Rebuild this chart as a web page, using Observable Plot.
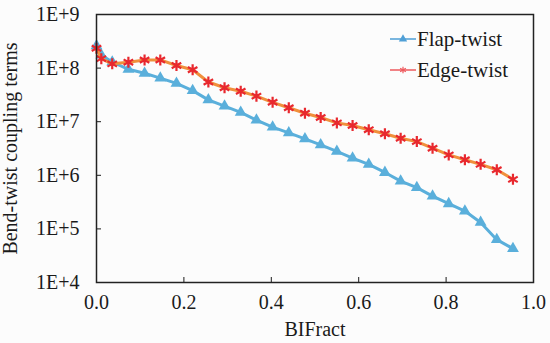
<!DOCTYPE html>
<html><head><meta charset="utf-8">
<script src="https://cdn.jsdelivr.net/npm/d3@7"></script>
<script src="https://cdn.jsdelivr.net/npm/@observablehq/plot@0.6"></script>
<style>
html,body{margin:0;padding:0;background:#fcfcfc;}
#chart{position:relative;width:550px;height:343px;}
#legend{position:absolute;left:386px;top:24px;}
</style></head><body>
<div id="chart"></div>
<script>
const bifract = [0, 0.011, 0.036, 0.073, 0.110, 0.146, 0.183, 0.220, 0.256, 0.293, 0.330, 0.366, 0.403, 0.440, 0.477, 0.513, 0.550, 0.586, 0.623, 0.660, 0.696, 0.733, 0.769, 0.806, 0.843, 0.879, 0.916, 0.953];
const flapTwist = [2.6e8, 1.75e8, 1.3e8, 9.5e7, 8.0e7, 6.5e7, 5.2e7, 3.8e7, 2.55e7, 1.95e7, 1.49e7, 1.07e7, 7.9e6, 6.2e6, 4.8e6, 3.7e6, 2.8e6, 2.1e6, 1.6e6, 1.13e6, 7.8e5, 5.9e5, 4.1e5, 2.95e5, 2.15e5, 1.32e5, 6.3e4, 4.3e4];
const edgeTwist = [2.35e8, 1.5e8, 1.2e8, 1.29e8, 1.42e8, 1.42e8, 1.12e8, 9.3e7, 5.5e7, 4.3e7, 3.7e7, 3.0e7, 2.3e7, 1.82e7, 1.44e7, 1.2e7, 9.5e6, 8.5e6, 7.1e6, 5.95e6, 4.9e6, 4.25e6, 3.2e6, 2.4e6, 1.95e6, 1.6e6, 1.27e6, 8.4e5];
const seriesNames = ["Flap-twist", "Edge-twist"];
const xTicks = [0, 0.2, 0.4, 0.6, 0.8, 1.0];
const yTicks = [1e4, 1e5, 1e6, 1e7, 1e8, 1e9];

const blue = "#5aafdb", orange = "#f0903c", red = "#e8282e";
const flapData = bifract.map((x, i) => ({x, y: flapTwist[i]}));
const edgeData = bifract.map((x, i) => ({x, y: edgeTwist[i]}));

const chart = Plot.plot({
  width: 550, height: 343,
  marginLeft: 96, marginRight: 17, marginTop: 14, marginBottom: 61,
  style: {background: "transparent", fontFamily: "Liberation Serif", fontSize: "20px", color: "#1a1a1a"},
  x: {domain: [0, 1]},
  y: {type: "log", domain: [1e4, 1e9]},
  marks: [
    Plot.axisX({ticks: xTicks, tickSize: 0, tickPadding: 12, tickFormat: d3.format(".1f"),
      label: "BIFract", labelAnchor: "center", labelArrow: "none", labelOffset: 53}),
    Plot.axisX({ticks: xTicks.slice(1, -1), tickSize: -5, tickFormat: () => "", label: null}),
    Plot.axisY({ticks: yTicks, tickSize: 0, tickPadding: 17,
      tickFormat: d => "1E+" + Math.round(Math.log10(d)),
      label: "Bend-twist coupling terms", labelAnchor: "center", labelArrow: "none", labelOffset: 94}),
    Plot.axisY({ticks: yTicks.slice(1, -1), tickSize: -5, tickFormat: () => "", label: null}),
    Plot.line(flapData, {x: "x", y: "y", stroke: blue, strokeWidth: 3}),
    Plot.dot(flapData, {x: "x", y: "y", symbol: "triangle", fill: blue, r: 4.4}),
    Plot.line(edgeData, {x: "x", y: "y", stroke: orange, strokeWidth: 3}),
    Plot.dot(edgeData, {x: "x", y: "y", symbol: "asterisk", stroke: red, strokeWidth: 2.2, r: 5.2}),
    Plot.frame({stroke: "#222", strokeWidth: 1.5})
  ]
});
const holder = document.getElementById("chart");
holder.appendChild(chart);

// legend
const legendSpec = [
  {name: seriesNames[0], line: "#4f9fd6", sym: d3.symbolTriangle, fill: "#4f9fd6", stroke: "none"},
  {name: seriesNames[1], line: "#ee5a5e", sym: d3.symbolAsterisk, fill: "none", stroke: "#ee5a5e"}
];
const lg = d3.create("svg").attr("id", "legend").attr("width", 150).attr("height", 64)
  .style("font-family", "Liberation Serif").style("font-size", "21px");
legendSpec.forEach((s, i) => {
  const g = lg.append("g").attr("transform", `translate(0,${15 + i * 31})`);
  g.append("line").attr("x1", 4).attr("x2", 30).attr("stroke", s.line).attr("stroke-width", 1.5);
  g.append("path").attr("transform", "translate(17,0)").attr("d", d3.symbol(s.sym, 30)())
    .attr("fill", s.fill).attr("stroke", s.stroke).attr("stroke-width", 1.2);
  g.append("text").attr("x", 31).attr("dy", "0.35em").attr("fill", "#1a1a1a").text(s.name);
});
holder.appendChild(lg.node());
</script>
</body></html>
